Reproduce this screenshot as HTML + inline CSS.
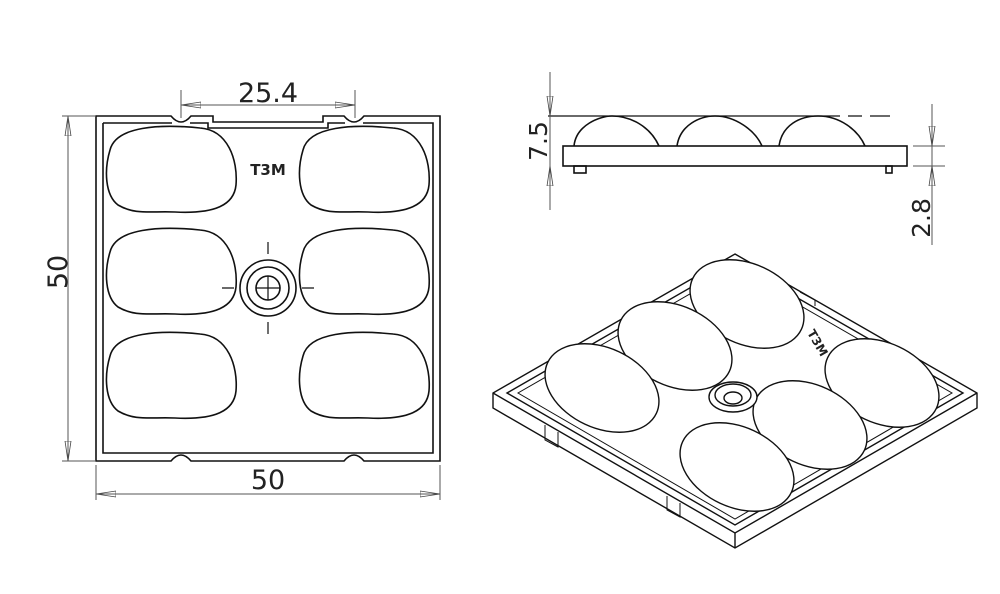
<!DOCTYPE html>
<html><head><style>
html,body{margin:0;padding:0;background:#fff;}
svg{display:block;}
text{font-family:"DejaVu Sans","Liberation Sans",sans-serif;fill:#222;}
</style></head><body>
<svg width="1000" height="594" viewBox="0 0 1000 594" xmlns="http://www.w3.org/2000/svg">
<defs>
<marker id="ar" markerWidth="20" markerHeight="8" refX="0" refY="4" orient="auto" markerUnits="userSpaceOnUse">
<path d="M0,4 L20,1 L20,7 Z" fill="none" stroke="#444" stroke-width="0.8"/>
</marker>
</defs>
<g fill="none" stroke="#111" stroke-width="1.6">
<path d="M96,116 H171 Q181,128 191,116 H213 V122 H323 V116 H344 Q354,128 364,116 H440 V461 H364 Q354,449 344,461 H191 Q181,449 171,461 H96 Z"/>
<path d="M103,123 H172 M190,123 H208 V128 H328 V123 H345 M363,123 H433 V453 H103 V123"/>
<g id="lens"><path d="M110,150 C116,126 160,124 200,128 C228,130 238,160 236,185 C234,205 215,214 175,212 C150,211 135,215 118,205 C105,195 104,170 110,150 Z"/></g>
<use href="#lens" y="102"/>
<use href="#lens" y="206"/>
<use href="#lens" x="193"/>
<use href="#lens" x="193" y="102"/>
<use href="#lens" x="193" y="206"/>
<circle cx="268" cy="288" r="28"/>
<circle cx="268" cy="288" r="21"/>
<circle cx="268" cy="288" r="12"/>
<path d="M268,276 V300 M256,288 H280 M268,242 V254 M268,322 V334 M222,288 H234 M302,288 H314" stroke-width="1.2"/>
</g>
<text x="268" y="175" font-size="15" font-weight="bold" text-anchor="middle" font-family="Liberation Sans">T3M</text>
<g stroke="#555" stroke-width="1" fill="none">
<path d="M62,116 H96 M62,461 H96"/>
<path d="M68,116 V461" marker-start="url(#ar)"/>
<path d="M68,461 V116" marker-start="url(#ar)"/>
<path d="M96,465 V500 M440,465 V500"/>
<path d="M96,494 H440" marker-start="url(#ar)"/>
<path d="M440,494 H96" marker-start="url(#ar)"/>
<path d="M181,90 V118 M355,90 V118"/>
<path d="M181,105 H355" marker-start="url(#ar)"/>
<path d="M355,105 H181" marker-start="url(#ar)"/>
</g>
<text x="268" y="102" font-size="27" text-anchor="middle">25.4</text>
<text x="268" y="489" font-size="27" text-anchor="middle">50</text>
<text transform="translate(67,272) rotate(-90)" font-size="27" text-anchor="middle">50</text>
<g fill="none" stroke="#111" stroke-width="1.6">
<rect x="563" y="146" width="344" height="20"/>
<path d="M548,116 H840 M848,116 H862 M870,116 H890" stroke-width="1.2"/>
<path d="M574,146 C576,125 600,116 612,116 C630,116 650,126 659,146"/>
<path d="M677,146 C680,125 700,116 715,116 C735,116 755,130 762,146"/>
<path d="M779,146 C782,125 800,116 818,116 C840,116 858,130 865,146"/>
<rect x="574" y="166" width="12" height="7"/>
<rect x="886" y="166" width="6" height="7"/>
</g>
<g stroke="#555" stroke-width="1" fill="none">
<path d="M550,72 V210"/>
<path d="M550,116 L550,96" marker-start="url(#ar)"/>
<path d="M550,166 L550,186" marker-start="url(#ar)"/>
<path d="M932,104 V245 M913,146 H945 M913,166 H945"/>
<path d="M932,146 L932,126" marker-start="url(#ar)"/>
<path d="M932,166 L932,186" marker-start="url(#ar)"/>
</g>
<text transform="translate(547,141) rotate(-90)" font-size="25" text-anchor="middle">7.5</text>
<text transform="translate(930,218) rotate(-90)" font-size="25" text-anchor="middle">2.8</text>
<g fill="none" stroke="#111" stroke-width="1.4">
<path d="M735,254 L977,393 L977,408 L735,548 L493,408 L493,393 Z"/>
<path d="M493,393 L735,533 L977,393"/>
<path d="M735,533 V548"/>
<path d="M735,262 L963,393 L735,525 L507,393 Z"/>
<path d="M735,268 L952,393 L735,519 L518,393 Z" stroke-width="1"/>
<path d="M545,425 V440 L558,447 V432 M667,496 V510 L680,517 V503" stroke-width="1"/>
<path d="M800,292 L815,300 V306" stroke-width="1"/>
<ellipse cx="747" cy="304" rx="60" ry="40" transform="rotate(25 747 304)" fill="#fff"/>
<ellipse cx="675" cy="346" rx="60" ry="40" transform="rotate(25 675 346)" fill="#fff"/>
<ellipse cx="602" cy="388" rx="60" ry="40" transform="rotate(25 602 388)" fill="#fff"/>
<ellipse cx="882" cy="383" rx="60" ry="40" transform="rotate(25 882 383)" fill="#fff"/>
<ellipse cx="810" cy="425" rx="60" ry="40" transform="rotate(25 810 425)" fill="#fff"/>
<ellipse cx="737" cy="467" rx="60" ry="40" transform="rotate(25 737 467)" fill="#fff"/>
<ellipse cx="733" cy="397" rx="24" ry="15" fill="#fff"/>
<ellipse cx="733" cy="395" rx="18" ry="11"/>
<ellipse cx="733" cy="398" rx="9" ry="6"/>
</g>
<text transform="translate(814,345) rotate(60)" font-size="12" font-weight="bold" text-anchor="middle" font-family="Liberation Sans">T3M</text>
</svg>
</body></html>
